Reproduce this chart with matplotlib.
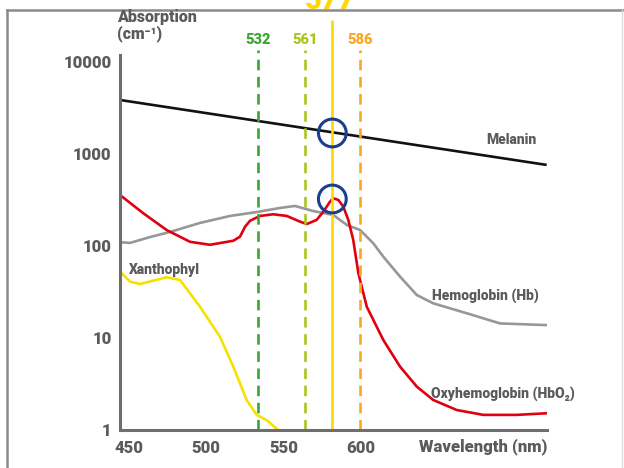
import matplotlib
matplotlib.use('Agg')
import matplotlib.pyplot as plt
from matplotlib.lines import Line2D

FONT = ['Roboto', 'DejaVu Sans']
TXT = '#5b5b5b'

# --- data (wavelength nm, absorption cm-1) ---
mel_wl = [444.5, 719.8]
mel_val = [3860, 760]

hb_wl = [444.5, 451.0, 463.9, 476.8, 496.1, 515.5, 533.0, 547.7, 557.4, 569.0,
         582.1, 590.9, 599.4, 607.9, 614.4, 625.2, 636.0, 646.6, 668.1, 689.7, 719.8]
hb_val = [110, 108, 125, 142, 178, 212, 234, 259, 272, 240,
          217, 169, 149, 107, 76.5, 46.4, 29.3, 23.8, 18.6, 14.4, 13.8]

hbo2_wl = [444.5, 459.5, 474.6, 489.7, 502.6, 517.6, 521.9, 525.2, 528.4, 534.8,
           543.4, 552.1, 560.6, 565.0, 571.4, 575.7, 580.0, 582.1, 585.4, 588.6,
           591.8, 595.0, 598.3, 603.7, 614.4, 625.2, 636.0, 646.6, 661.7, 678.9,
           700.5, 719.8]
hbo2_val = [358, 227, 149, 111, 103, 114, 126, 162, 188, 212,
            221, 212, 184, 173, 192, 236, 303, 330, 316, 267,
            192, 116, 50.5, 21.9, 9.5, 4.88, 2.96, 2.12, 1.65, 1.46,
            1.46, 1.52]

xan_wl = [444.5, 451.0, 457.4, 474.6, 483.2, 496.1, 509.0, 517.6, 526.2, 532.7, 539.1, 546.6]
xan_val = [52.6, 40.9, 38.6, 45.7, 42.7, 21.9, 10.3, 4.88, 2.12, 1.46, 1.28, 1.0]

laser_pos = [533.7, 563.9, 599.4]
laser_lbl = ['532', '561', '586']
laser_col = ['#3aa635', '#a8c61e', '#f7a823']
main_pos = 581.5
main_lbl = '577'

circ_x = [581.5, 581.5]
circ_y = [1690, 324]

xticks = [450, 500, 550, 600]
yticks = [1, 10, 100, 1000, 10000]

fig = plt.figure(figsize=(6.24, 4.68), dpi=100)
ax = fig.add_axes([0.1923, 0.0812, 0.6843, 0.8013])
ax.set_yscale('log')
ax.set_xlim(444.5, 720)
ax.set_ylim(1, 11900)

ax.plot(mel_wl, mel_val, color='#111111', lw=1.9, solid_capstyle='butt')
ax.plot(hb_wl, hb_val, color='#979797', lw=1.9, solid_joinstyle='round')
ax.plot(hbo2_wl, hbo2_val, color='#e1000f', lw=1.9, solid_joinstyle='round')
ax.plot(xan_wl, xan_val, color='#f8e000', lw=1.9, solid_joinstyle='round')

for p, l, c in zip(laser_pos, laser_lbl, laser_col):
    ax.vlines(p, 1, 13500, colors=c, lw=1.9, linestyles=(0, (4, 2.5)), clip_on=False)
    ax.text(p, 17300, l, color=c, ha='center', va='center', fontsize=10.5,
            fontweight='heavy', family=FONT)
ax.vlines(main_pos, 1, 28600, colors='#ffd800', lw=1.9, clip_on=False)
ax.text(main_pos - 1.5, 32400, main_lbl, color='#ffd800', ha='center', va='bottom',
        fontsize=21, fontweight='heavy', family=FONT)

ax.scatter(circ_x, circ_y, s=400, facecolors='none', edgecolors='#1b3f8f',
           linewidths=2.2, zorder=5)

ax.set_xticks(xticks)
ax.set_xticklabels([str(t) for t in xticks])
ax.set_yticks(yticks)
ax.set_yticklabels([str(t) for t in yticks])
ax.minorticks_off()
ax.tick_params(length=0, labelsize=12, labelcolor=TXT)
ax.tick_params(axis='x', pad=7)
ax.tick_params(axis='y', pad=6)
for lab in ax.get_xticklabels() + ax.get_yticklabels():
    lab.set_fontweight('heavy')
    lab.set_family(FONT)

for s in ['top', 'right']:
    ax.spines[s].set_visible(False)
for s in ['left', 'bottom']:
    ax.spines[s].set_color('#6e6e6e')
    ax.spines[s].set_linewidth(2.2)

kw = dict(color=TXT, fontweight='heavy', family=FONT)
ax.text(681, 1420, 'Melanin', fontsize=10, ha='left', va='center', **kw)
ax.text(450, 55, 'Xanthophyl', fontsize=10, ha='left', va='center', **kw)
ax.text(645.5, 29, 'Hemoglobin (Hb)', fontsize=10, ha='left', va='center', **kw)
ax.text(645, 2.5, 'Oxyhemoglobin (HbO\u2082)', fontsize=10, ha='left', va='center', **kw)

fig.text(547 / 624, 1 - 447 / 468, 'Wavelength (nm)', fontsize=12, ha='right', va='center', **kw)
fig.text(117 / 624, 1 - 9 / 468, 'Absorption\n(cm\u207b\u00b9)', fontsize=11.5, ha='left', va='top',
         linespacing=1.0, **kw)

# outer frame
fig.add_artist(Line2D([7 / 624, 7 / 624], [0, 1 - 10 / 468], color='#8a8a8a', lw=1.8))
fig.add_artist(Line2D([7 / 624, 1], [1 - 10 / 468, 1 - 10 / 468], color='#8a8a8a', lw=1.8))
fig.add_artist(Line2D([622 / 624, 622 / 624], [0, 1 - 10 / 468], color='#dddddd', lw=1.0))

fig.savefig('out.png', dpi=100)
